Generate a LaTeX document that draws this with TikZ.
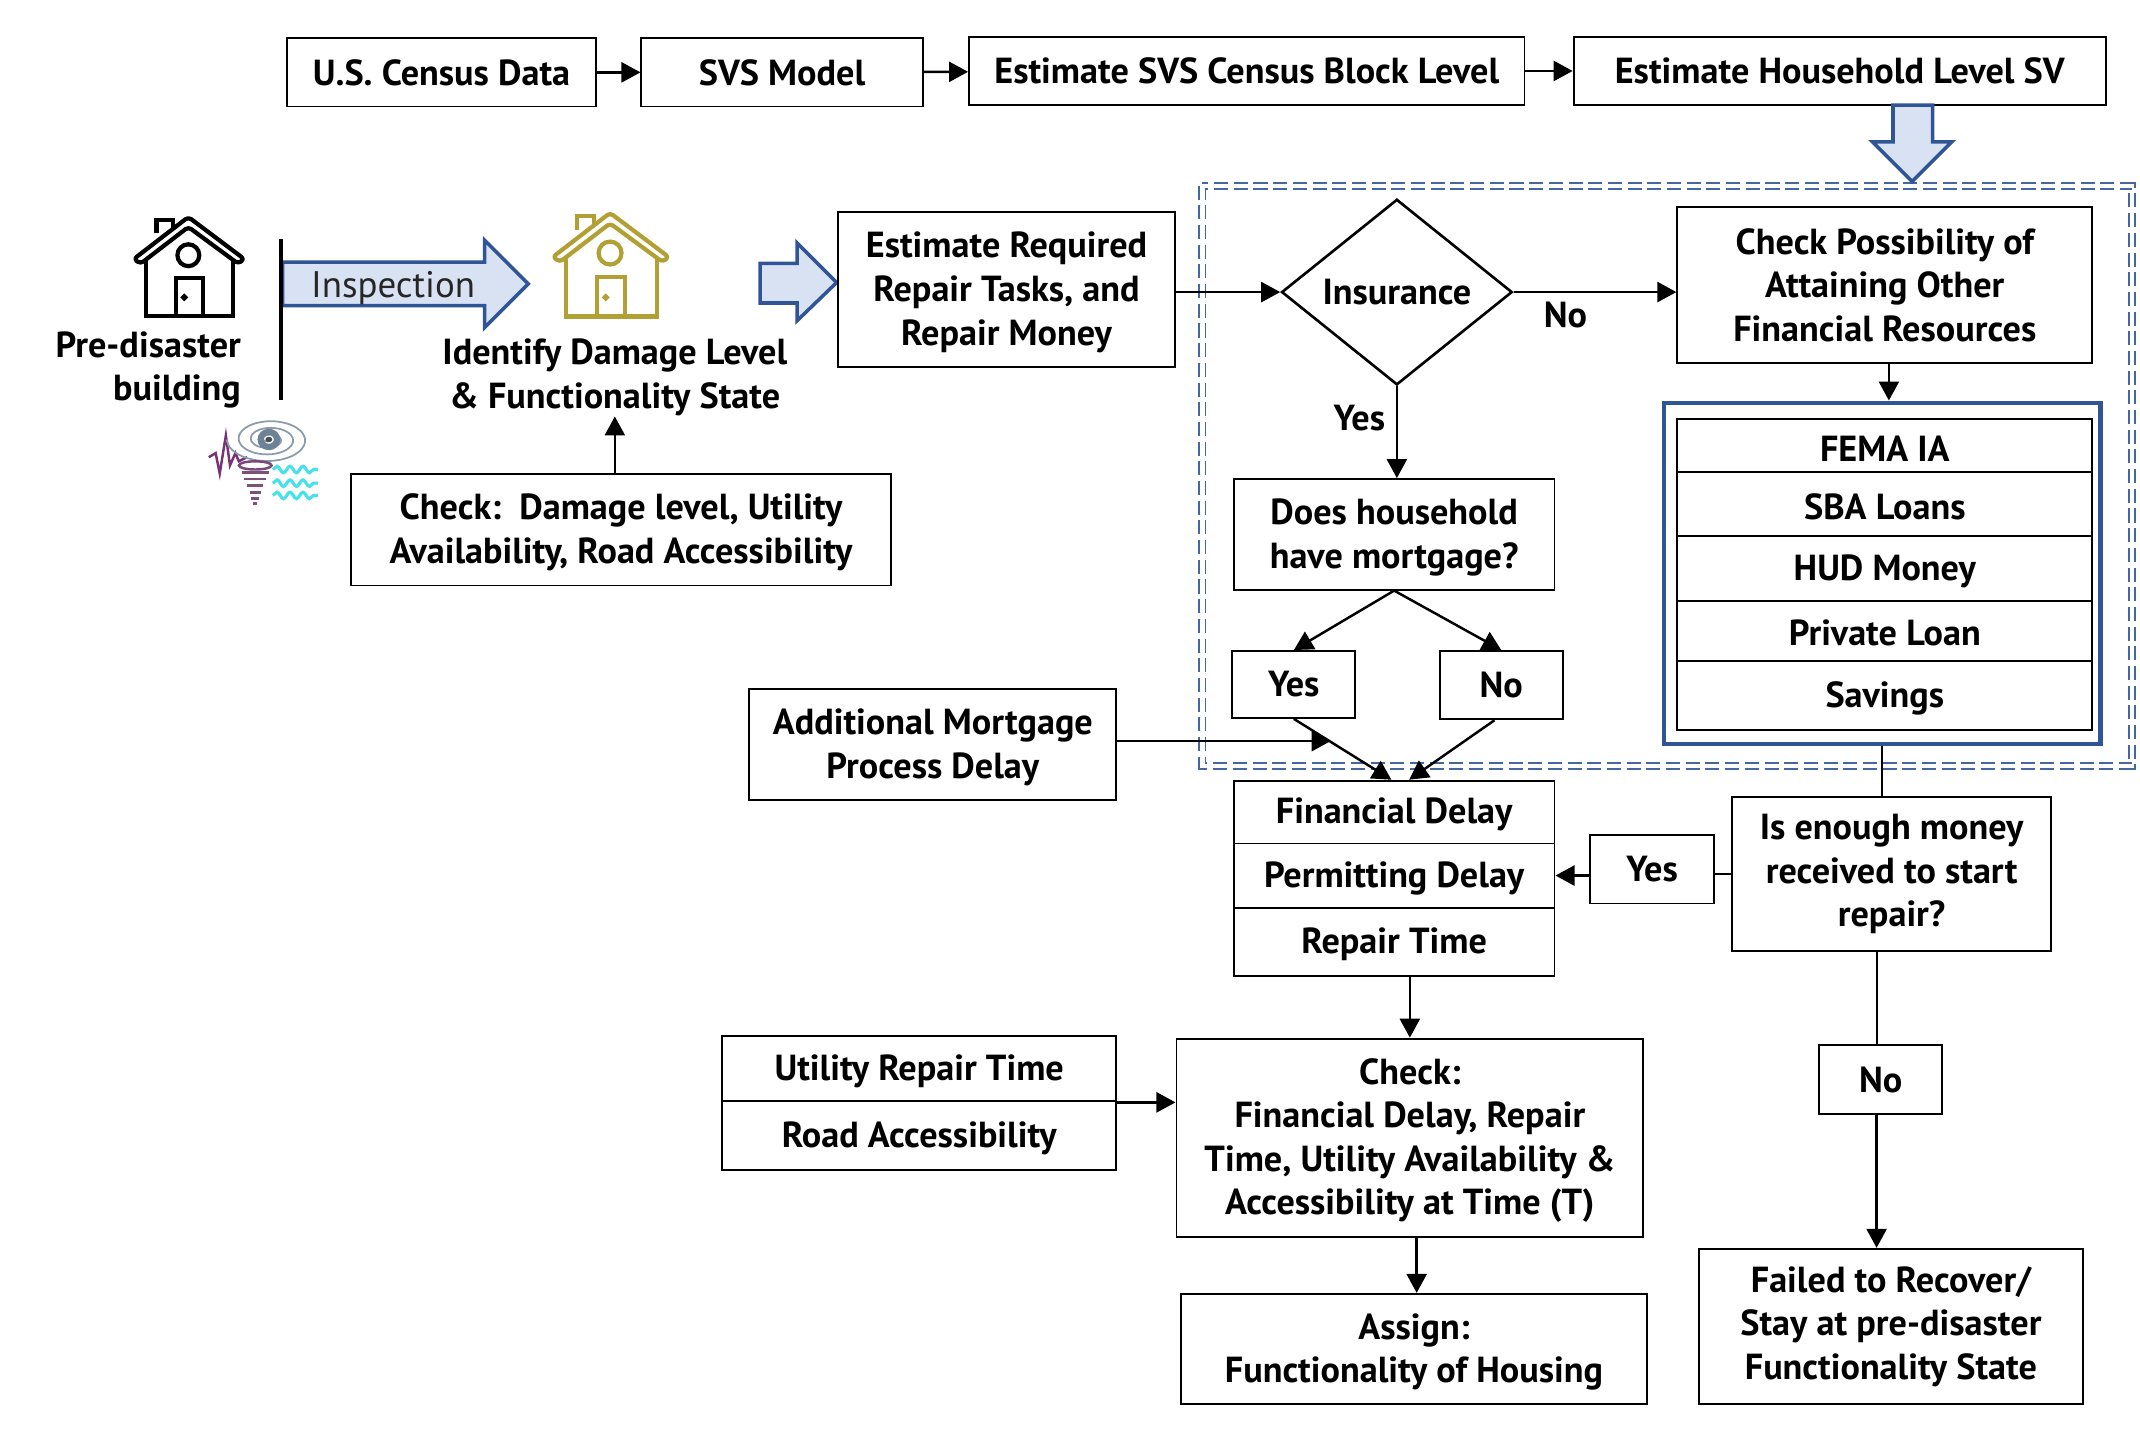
\documentclass[tikz,border=0pt]{standalone}
\usepackage{fontspec}
\setmainfont{PT Sans}
\usetikzlibrary{
    shapes,
    shapes.geometric,
    positioning,
    calc,
    arrows.meta,
    decorations.pathmorphing
}
\definecolor{frameblue}{RGB}{47,85,151}
\definecolor{arrowfill}{RGB}{217,226,243}
\definecolor{housegold}{RGB}{178,160,52}
\definecolor{quakeplum}{RGB}{120,50,120}
\definecolor{windgray}{RGB}{110,130,150}
\definecolor{wavecyan}{RGB}{70,225,235}
\newcommand{\lowline}{\rule{0pt}{9pt}}
\tikzset{
  wh/.style 2 args = {
      minimum width=#1*0.013648cm,
      minimum height=#2*0.013648cm
  },
  basic/.style = {
      draw,
      rectangle,
      line width=0.55pt,
      inner sep=0pt,
      align=center,
      font=\bfseries\fontsize{10.3}{12.4}\selectfont
  },
  row/.style = {
      basic,
      execute at begin node={\rule{0pt}{8.8pt}}
  },
  plain/.style = {
      inner sep=0pt,
      align=center,
      font=\bfseries\fontsize{10.3}{12.4}\selectfont
  },
  decision/.style = {
      basic,
      diamond,
      aspect=1.24,
      line width=0.75pt
  },
  edge/.style = {
      line width=0.7pt,
      -{Triangle[length=1.9mm,width=2mm]}
  },
  bare/.style = {
      line width=0.55pt
  },
  blockarrow/.style = {
      draw=frameblue,
      fill=arrowfill,
      line width=1pt
  },
  pics/housepic/.style = {
    code = {
      \draw[line width=1.2pt,rounded corners=1pt,line join=round]
        (-40,30.8) -- (0,0) -- (41,30.8) -- (36.5,34.2) -- (0,7.3) -- (-35,34.2) -- cycle;
      \draw[line width=1.2pt]
        (-31,32) -- (-31,72.3) -- (32.6,72.3) -- (32.6,32)
        (-23.3,11.7) -- (-23.3,2) -- (-11,2) -- (-11,8)
        (-9,72.3) -- (-9,44.7) -- (10.5,44.7) -- (10.5,72.3);
      \draw[line width=1.2pt] (0,28) circle (8);
      \draw[line width=1.4pt] (-3,58.9) circle (0.4);
    }
  }
}
\begin{document}
\begin{tikzpicture}[x=0.013648cm,y=-0.013648cm]
    \useasboundingbox (0,0) rectangle (1568,1050);
    % Top row
    \node[basic, wh={227}{50}] (census) at (323.5,53) {U.S. Census Data};
    \node[basic, wh={206}{50}] (svsmodel) at (573,53) {SVS Model};
    \node[basic, wh={407}{50}] (blocklevel) at (913.5,52) {Estimate SVS Census Block Level};
    \node[basic, wh={390}{50}] (householdsv) at (1348,52) {Estimate Household Level SV};
    % Outer frame
    \draw[frameblue!90, dash pattern=on 4pt off 1.6pt, line width=0.55pt, double=white, double distance=1.2pt]
        (881,136) rectangle (1562,561);
    % Block arrows
    \draw[blockarrow] (207,192) -- (355,192) -- (355,176) -- (387,208) -- (355,240) -- (355,224) -- (207,224) -- cycle;
    \draw[blockarrow] (557,193) -- (584,193) -- (584,178) -- (613,207) -- (584,235) -- (584,222) -- (557,222) -- cycle;
    \draw[blockarrow] (1387,77) -- (1416,77) -- (1416,104) -- (1430,104) -- (1401,133) -- (1372,104) -- (1387,104) -- cycle;
    \node[inner sep=0pt, font=\fontsize{10.5}{12}\selectfont, text=black!85] (inspection) at (288,211) {Inspection};
    \draw[line width=1.3pt] (206,175) -- (206,293);
    % Houses
    \pic[draw=black, fill=none] at (138,159) {housepic};
    \pic[draw=housegold, scale=1.05] at (447,156) {housepic};
    % Hazard icon
    \draw[quakeplum, line width=0.7pt] (153,335) -- (158,332) -- (161,347) -- (165.5,319) -- (168.5,341) -- (172.5,332) -- (175,338) -- (181,335);
    \draw[windgray!80, line width=0.5pt] plot[smooth, domain=0:1260, samples=70] ({197+\x/1260*31*cos(\x)},{322+\x/1260*17*sin(\x)});
    \draw[windgray, line width=1.8pt] (197,322) ellipse (6 and 5.5);
    \fill[windgray!60!black] (197,322) ellipse (2.5 and 2);
    \draw[quakeplum!70!gray, fill=white, line width=0.7pt] (187,341) ellipse (12 and 3);
    \foreach \ya/\wa in {346/10,351/8,356/6,361/4,365/3,369/1.5}{
        \draw[quakeplum!60!gray, line width=0.8pt] (187-\wa,\ya) -- (187+\wa,\ya);
    }
    \foreach \ya in {344,354,363}{
        \draw[wavecyan, line width=0.9pt, decorate, decoration={snake, segment length=9.5*0.013648cm, amplitude=2.4*0.013648cm}] (200,\ya) -- (233,\ya);
    }
    % Left labels
    \node[plain, align=right, anchor=east] (predisaster) at (177,271) {Pre-disaster\\building};
    \node[plain] (identify) at (450.5,276.5) {Identify Damage Level\\\& Functionality State};
    \node[basic, wh={396}{82}] (checkdamage) at (455,388) {\lowline Check:\ \ Damage level, Utility\\Availability, Road Accessibility};
    \node[basic, wh={247}{114}] (estimate) at (737.5,212) {\lowline Estimate Required\\Repair Tasks, and\\Repair Money};
    % Insurance branch
    \node[decision, wh={169}{136}] (insurance) at (1023.5,214) {Insurance};
    \node[basic, wh={304}{114}] (checkposs) at (1381,209) {Check Possibility of\\Attaining Other\\Financial Resources};
    \node[plain] (insno) at (1147,231) {No};
    \node[plain] (insyes) at (996,306) {Yes};
    \node[basic, wh={235}{81}] (mortgageq) at (1021.5,391.5) {\lowline Does household\\have mortgage?};
    \node[basic, wh={90}{49}] (yesbox) at (948,501.5) {Yes};
    \node[basic, wh={90}{50}] (nobox) at (1100,502) {No};
    \node[basic, wh={269}{81}] (mortgagedelay) at (683.5,545.5) {\lowline Additional Mortgage\\Process Delay};
    % Funding sources
    \node[draw=frameblue, line width=1.2pt, rectangle, wh={320}{250}] (fundframe) at (1379,420) {};
    \node[row, wh={304}{39}] (fema) at (1381,326.5) {FEMA IA};
    \node[row, wh={304}{47}] (sba) at (1381,369.5) {SBA Loans};
    \node[row, wh={304}{47}] (hud) at (1381,416.5) {HUD Money};
    \node[row, wh={304}{44}] (privateloan) at (1381,462) {Private Loan};
    \node[row, wh={304}{51}] (savings) at (1381,509.5) {Savings};
    % Delays
    \node[row, wh={235}{46}] (financial) at (1021.5,595) {Financial Delay};
    \node[row, wh={235}{47}] (permitting) at (1021.5,641.5) {Permitting Delay};
    \node[row, wh={235}{50}] (repairtime) at (1021.5,690) {Repair Time};
    \node[basic, wh={91}{50}] (yesrepair) at (1210.5,637) {Yes};
    \node[basic, wh={234}{113}] (enough) at (1386,640.5) {Is enough money\\received to start\\repair?};
    \node[basic, wh={90}{50}] (enoughno) at (1378,791) {No};
    \node[basic, wh={281}{114}] (failed) at (1385.5,972) {Failed to Recover/\\Stay at pre-disaster\\Functionality State};
    % Final checks
    \node[row, wh={289}{48}] (utilrepair) at (673.5,783) {Utility Repair Time};
    \node[row, wh={289}{50}] (roadaccess) at (673.5,832) {Road Accessibility};
    \node[basic, wh={342}{145}] (checkfinal) at (1033,833.5) {\lowline Check:\\Financial Delay, Repair\\Time, Utility Availability \&\\Accessibility at Time (T)};
    \node[basic, wh={342}{81}] (assign) at (1036,988.5) {\lowline Assign:\\Functionality of Housing};
    % Helpers
    \coordinate (mergept) at (975,543);
    \coordinate (noline) at ($(enoughno.north)+(-3,0)$);
    \coordinate (possdrop) at ($(checkposs.south)+(3,0)$);
    \coordinate (assigndrop) at ($(assign.north)+(2,0)$);
    % Edges
    \draw[edge] (census) -- (svsmodel);
    \draw[edge] (svsmodel) -- (blocklevel);
    \draw[edge] (blocklevel) -- (householdsv);
    \draw[edge] (identify.south |- checkdamage.north) -- (identify.south);
    \draw[edge] (estimate.east |- insurance.west) -- (insurance.west);
    \draw[edge] (insurance.east) -- (checkposs.west |- insurance.east);
    \draw[edge] (possdrop) -- (possdrop |- fundframe.north);
    \draw[edge] (insurance.south) -- (insurance.south |- mortgageq.north);
    \draw[edge] (mortgageq.south) -- (yesbox.north);
    \draw[edge] (mortgageq.south) -- (nobox.north);
    \draw[edge] (yesbox.south) -- ($(financial.north)+(-2,0)$);
    \draw[edge] ($(nobox.south)+(-5,0)$) -- ($(financial.north)+(11,0)$);
    \draw[edge] (mortgagedelay.east |- mergept) -- (mergept);
    \draw[bare] (fundframe.south) -- (fundframe.south |- enough.north);
    \draw[bare] (enough.west) -- (enough.west -| yesrepair.east);
    \draw[edge] (yesrepair.west |- permitting.east) -- (permitting.east);
    \draw[bare] (noline |- enough.south) -- (noline);
    \draw[edge] (noline |- enoughno.south) -- (noline |- failed.north);
    \draw[edge] (checkfinal.north |- repairtime.south) -- (checkfinal.north);
    \draw[edge] (utilrepair.south east) -- (utilrepair.south east -| checkfinal.west);
    \draw[edge] (assigndrop |- checkfinal.south) -- (assigndrop);
\end{tikzpicture}
\end{document}
